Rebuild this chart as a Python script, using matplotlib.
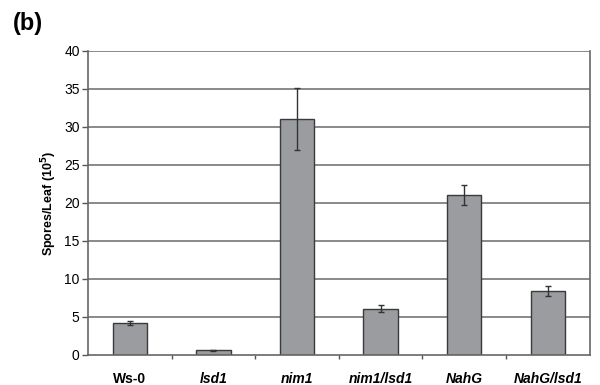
import matplotlib
matplotlib.use("Agg")
import matplotlib.pyplot as plt
import numpy as np

plt.rcParams['font.family'] = ['Liberation Sans', 'DejaVu Sans']

genotypes = ["Ws-0", "lsd1", "nim1", "nim1/lsd1", "NahG", "NahG/lsd1"]
spores = [4.2, 0.6, 31.0, 6.1, 21.0, 8.4]
errors = [0.3, 0.1, 4.1, 0.5, 1.3, 0.7]
yticks = [0, 5, 10, 15, 20, 25, 30, 35, 40]

fig = plt.figure(figsize=(6.0, 3.85), dpi=100)
ax = fig.add_axes([0.1467, 0.078, 0.836, 0.79])

x = np.arange(len(genotypes))
ax.set_xlim(-0.5, len(genotypes) - 0.5)
ax.set_ylim(0, 40)

for yv in yticks[1:]:
    ax.axhline(yv, color="#808080", lw=1.3, zorder=1)

ax.bar(x, spores, width=0.41, color="#9a9c9f", edgecolor="#3a3a3a",
       linewidth=1.0, zorder=2)
ax.errorbar(x, spores, yerr=errors, fmt="none", ecolor="#333333",
            elinewidth=1.0, capsize=2, capthick=1.0, zorder=3)

ax.set_yticks(yticks)
ax.set_yticklabels([str(v) for v in yticks], fontsize=10)
ax.tick_params(axis="y", length=4, width=1, color="#555555", pad=2)

ax.set_xticks(np.arange(0.5, len(genotypes) - 0.5, 1.0), minor=False)
ax.set_xticklabels([])
ax.tick_params(axis="x", length=3, width=1, color="#555555", direction="out")
for xi, name in zip(x, genotypes):
    style = "normal" if name == "Ws-0" else "italic"
    ax.text(xi, -2.2, name, ha="center", va="top", fontsize=10,
            fontweight="bold", fontstyle=style, transform=ax.transData)

for side in ["left", "right", "bottom"]:
    ax.spines[side].set_color("#666666")
    ax.spines[side].set_linewidth(1.2)
ax.spines["top"].set_visible(False)

ax.set_ylabel("Spores/Leaf (10$^\\mathbf{5}$)", fontsize=9, fontweight="bold",
              labelpad=4)

fig.text(0.022, 0.94, "(b)", fontsize=17, fontweight="bold", ha="left",
         va="center")

fig.savefig("out.png", dpi=100)
